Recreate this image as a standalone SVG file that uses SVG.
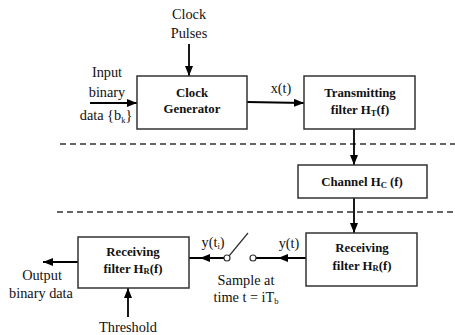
<svg xmlns="http://www.w3.org/2000/svg" width="455" height="335" viewBox="0 0 455 335">
<defs>
<marker id="ah" markerWidth="10" markerHeight="8" refX="10" refY="4" orient="auto" markerUnits="userSpaceOnUse">
<path d="M0,0 L10,4 L0,8 Z" fill="#000"/>
</marker>
<style>
.box{fill:#fff;stroke:#333;stroke-width:1.5}
.ln{stroke:#000;stroke-width:1.8;fill:none}
.dash{stroke:#333;stroke-width:1.3;stroke-dasharray:6,4;fill:none}
text{font-family:'Liberation Serif','DejaVu Serif',serif}
.t{font-size:14.3px;fill:#111;text-anchor:middle}
.b{font-size:12.8px;font-weight:bold;fill:#111;text-anchor:middle}
.s{font-size:8.5px}
</style>
</defs>
<rect width="455" height="335" fill="#fff"/>
<g id="separators">
<line class="dash" x1="60" y1="144" x2="455" y2="144"/>
<line class="dash" x1="57" y1="212" x2="455" y2="212"/>
</g>
<g id="connectors">
<line class="ln" x1="189" y1="44" x2="189" y2="76" marker-end="url(#ah)"/>
<line class="ln" x1="90" y1="103" x2="137" y2="103" marker-end="url(#ah)"/>
<line class="ln" x1="247" y1="102" x2="304" y2="103" marker-end="url(#ah)"/>
<line class="ln" x1="354" y1="129" x2="354" y2="165" marker-end="url(#ah)"/>
<line class="ln" x1="354" y1="198" x2="354" y2="233" marker-end="url(#ah)"/>
<line class="ln" x1="306" y1="258" x2="256" y2="258"/>
<line class="ln" x1="306" y1="258" x2="278" y2="258" marker-end="url(#ah)"/>
<line class="ln" x1="224" y1="258" x2="189" y2="258"/>
<line class="ln" x1="224" y1="258" x2="200" y2="258" marker-end="url(#ah)"/>
<line class="ln" x1="78" y1="262" x2="43" y2="262" marker-end="url(#ah)"/>
<line class="ln" x1="128" y1="317" x2="128" y2="288" marker-end="url(#ah)"/>
</g>
<g id="switch">
<line x1="229" y1="256" x2="248" y2="233" stroke="#333" stroke-width="1.2"/>
<circle cx="227" cy="258" r="3" fill="#fff" stroke="#333" stroke-width="1.2"/>
<circle cx="253" cy="258" r="3" fill="#fff" stroke="#333" stroke-width="1.2"/>
</g>
<g id="clock-pulses">
<text class="t" x="189" y="19">Clock</text>
<text class="t" x="189" y="38">Pulses</text>
</g>
<g id="input">
<text class="t" x="107" y="77">Input</text>
<text class="t" x="107" y="97">binary</text>
<text class="t" x="106" y="120">data  {b<tspan class="s" dy="3">k</tspan><tspan dy="-3">}</tspan></text>
</g>
<g id="clock-generator">
<rect class="box" x="137" y="76" width="110" height="53"/>
<text class="b" x="192" y="97">Clock</text>
<text class="b" x="192" y="113">Generator</text>
</g>
<g id="xt-label"><text class="t" x="281" y="93">x(t)</text></g>
<g id="transmitting-filter">
<rect class="box" x="304" y="76" width="111" height="53"/>
<text class="b" x="360" y="97">Transmitting</text>
<text class="b" x="360" y="114">filter H<tspan class="s" dy="2">T</tspan><tspan dy="-2">(f)</tspan></text>
</g>
<g id="channel">
<rect class="box" x="298" y="165" width="129" height="33"/>
<text class="b" x="362" y="186">Channel H<tspan class="s" dy="2">C</tspan><tspan dy="-2"> (f)</tspan></text>
</g>
<g id="receiving-filter-right">
<rect class="box" x="306" y="233" width="111" height="53"/>
<text class="b" x="362" y="252">Receiving</text>
<text class="b" x="362" y="270">filter H<tspan class="s" dy="1">R</tspan><tspan dy="-1">(f)</tspan></text>
</g>
<g id="yt-label"><text class="t" x="289" y="248">y(t)</text></g>
<g id="yti-label"><text class="t" x="213" y="247">y(t<tspan class="s" dy="2">i</tspan><tspan dy="-2">)</tspan></text></g>
<g id="sample-label">
<text class="t" x="246" y="285">Sample at</text>
<text class="t" x="246" y="302">time t = iT<tspan class="s" dy="2">b</tspan></text>
</g>
<g id="receiving-filter-left">
<rect class="box" x="78" y="237" width="111" height="51"/>
<text class="b" x="133" y="256">Receiving</text>
<text class="b" x="133" y="273">filter H<tspan class="s" dy="1">R</tspan><tspan dy="-1">(f)</tspan></text>
</g>
<g id="output">
<text class="t" x="42" y="280">Output</text>
<text class="t" x="41" y="298">binary data</text>
</g>
<g id="threshold"><text class="t" x="128" y="332">Threshold</text></g>
</svg>
